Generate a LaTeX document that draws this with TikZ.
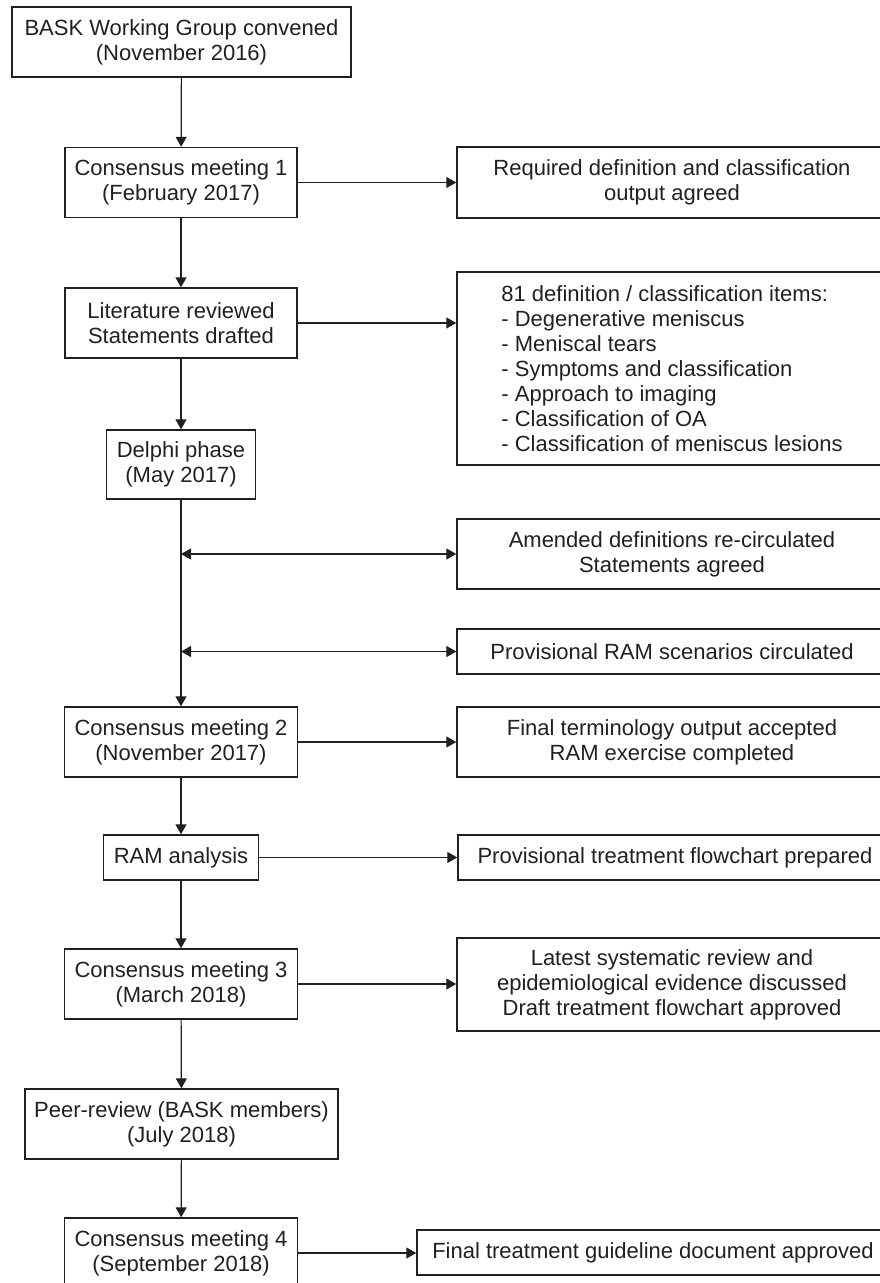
\documentclass[tikz,border=0pt]{standalone}
\usepackage{fontspec}
\setmainfont{Liberation Sans}
\usetikzlibrary{arrows.meta}
\definecolor{ink}{HTML}{231F20}
\begin{document}
\begin{tikzpicture}[x=1pt,y=-1pt,
  box/.style={draw=ink, line width=1.4pt, inner sep=0pt, align=center,
    font=\fontsize{22}{25}\selectfont, text=ink},
  conn/.style={draw=ink, line width=1.2pt, -{Triangle[length=10pt,width=11pt]}},
  dconn/.style={draw=ink, line width=1.2pt, {Triangle[length=10pt,width=11pt]}-{Triangle[length=10pt,width=11pt]}}]
\useasboundingbox (0,0) rectangle (880,1283);
% main column
\node[box, minimum width=339pt, minimum height=70pt] (bask) at (181.5,42) {BASK Working Group convened\\(November 2016)};
\node[box, minimum width=232pt, minimum height=70pt] (cm1) at (181,182.5) {Consensus meeting 1\\(February 2017)};
\node[box, minimum width=232pt, minimum height=70pt] (lit) at (181,323) {Literature reviewed\\Statements drafted};
\node[box, minimum width=149pt, minimum height=69pt] (delphi) at (181,464.5) {Delphi phase\\(May 2017)};
\node[box, minimum width=233pt, minimum height=70pt] (cm2) at (181,742) {Consensus meeting 2\\(November 2017)};
\node[box, minimum width=155pt, minimum height=45pt] (ram) at (181,857.5) {RAM analysis};
\node[box, minimum width=233pt, minimum height=70pt] (cm3) at (181,984) {Consensus meeting 3\\(March 2018)};
\node[box, minimum width=313pt, minimum height=70pt] (peer) at (181.5,1124) {Peer-review (BASK members)\\(July 2018)};
\node[box, minimum width=233pt, minimum height=70pt] (cm4) at (181,1253) {Consensus meeting 4\\(September 2018)};
% right column
\node[box, minimum width=430pt, minimum height=71pt] (r1) at (672,182.5) {Required definition and classification\\output agreed};
\node[box, minimum width=430pt, minimum height=193pt, align=left] (r2) at (672,368.5) {81 definition / classification items:\\- Degenerative meniscus\\- Meniscal tears\\- Symptoms and classification\\- Approach to imaging\\- Classification of OA\\- Classification of meniscus lesions};
\node[box, minimum width=430pt, minimum height=70pt] (r3) at (672,554) {Amended definitions re-circulated\\Statements agreed};
\node[box, minimum width=430pt, minimum height=45pt] (r4) at (672,651.5) {Provisional RAM scenarios circulated};
\node[box, minimum width=430pt, minimum height=70pt] (r5) at (672,742) {Final terminology output accepted\\RAM exercise completed};
\node[box, minimum width=434pt, minimum height=45pt] (r6) at (675,857.5) {Provisional treatment flowchart prepared};
\node[box, minimum width=430pt, minimum height=93pt] (r7) at (672,984.5) {Latest systematic review and\\epidemiological evidence discussed\\Draft treatment flowchart approved};
\node[box, minimum width=472pt, minimum height=45pt] (r8) at (653,1252.5) {Final treatment guideline document approved};
% vertical connectors
\draw[conn] (bask) -- (cm1);
\draw[conn] (cm1) -- (lit);
\draw[conn] (lit) -- (delphi);
\draw[conn] (delphi) -- (cm2);
\draw[conn] (cm2) -- (ram);
\draw[conn] (ram) -- (cm3);
\draw[conn] (cm3) -- (peer);
\draw[conn] (peer) -- (cm4);
% horizontal connectors
\draw[conn] (cm1.east) -- (r1.west |- cm1.east);
\draw[conn] (lit.east) -- (lit.east -| r2.west);
\draw[conn] (cm2.east) -- (r5.west |- cm2.east);
\draw[conn] (ram.east) -- (r6.west |- ram.east);
\draw[conn] (cm3.east) -- (cm3.east -| r7.west);
\draw[conn] (cm4.east) -- (cm4.east -| r8.west);
% double arrows from the Delphi line
\coordinate (j1) at (delphi.south |- r3.west);
\coordinate (j2) at (delphi.south |- r4.west);
\draw[dconn] (j1) -- (r3.west);
\draw[dconn] (j2) -- (r4.west);
\end{tikzpicture}
\end{document}
